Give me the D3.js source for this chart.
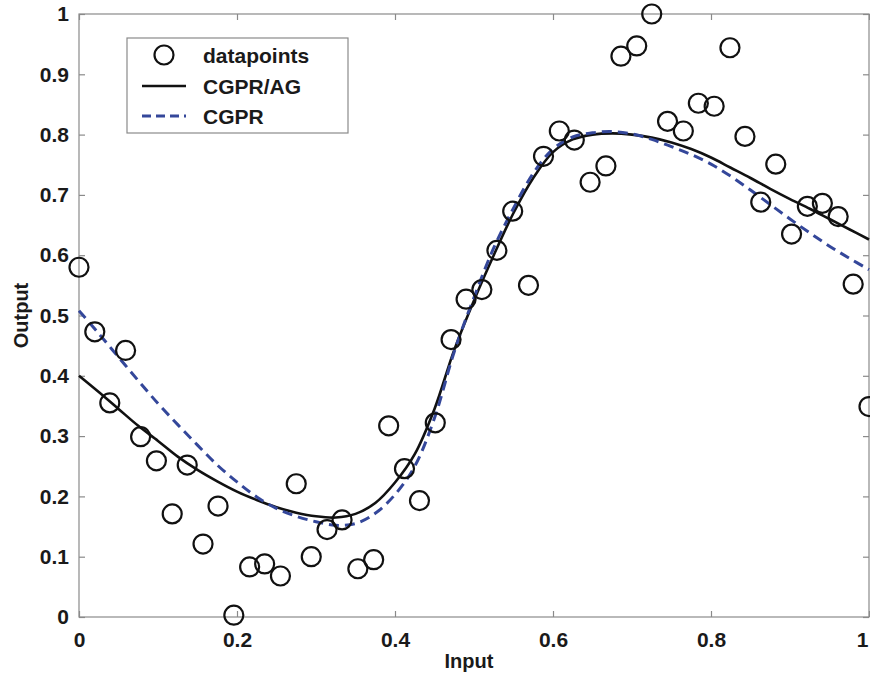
<!DOCTYPE html>
<html><head><meta charset="utf-8">
<script src="https://cdn.jsdelivr.net/npm/d3@7"></script>
<style>body{margin:0;background:#fff}svg{display:block}</style>
</head><body><svg id="c" width="870" height="678"></svg>
<script>
const dataX = [0.000,0.020,0.059,0.039,0.078,0.098,0.118,0.137,0.157,0.176,0.196,0.216,0.235,0.255,0.275,0.294,0.314,0.333,0.353,0.373,0.392,0.412,0.431,0.451,0.471,0.490,0.510,0.529,0.549,0.569,0.588,0.608,0.627,0.647,0.667,0.686,0.706,0.725,0.745,0.765,0.784,0.804,0.824,0.843,0.863,0.882,0.902,0.922,0.941,0.961,0.980,1.000];
const dataY = [0.580,0.473,0.442,0.355,0.299,0.259,0.171,0.252,0.121,0.184,0.003,0.083,0.088,0.068,0.221,0.100,0.145,0.161,0.080,0.095,0.317,0.246,0.193,0.322,0.460,0.527,0.543,0.608,0.673,0.550,0.764,0.806,0.791,0.721,0.748,0.930,0.947,1.000,0.822,0.806,0.852,0.847,0.944,0.797,0.688,0.751,0.635,0.681,0.686,0.664,0.552,0.349];
const curveX = [0,0.025,0.05,0.075,0.1,0.125,0.15,0.175,0.2,0.225,0.25,0.275,0.3,0.325,0.35,0.375,0.4,0.425,0.45,0.475,0.5,0.525,0.55,0.575,0.6,0.625,0.65,0.675,0.7,0.725,0.75,0.775,0.8,0.825,0.85,0.875,0.9,0.925,0.95,0.975,1];
const cgprAG = [0.400,0.373,0.345,0.317,0.292,0.266,0.244,0.225,0.208,0.194,0.182,0.173,0.167,0.165,0.171,0.189,0.223,0.270,0.345,0.443,0.525,0.600,0.670,0.728,0.771,0.792,0.800,0.802,0.800,0.795,0.787,0.776,0.762,0.745,0.728,0.710,0.693,0.677,0.660,0.643,0.626];
const cgpr = [0.508,0.470,0.431,0.392,0.354,0.319,0.285,0.252,0.224,0.199,0.180,0.167,0.158,0.152,0.155,0.172,0.203,0.250,0.330,0.440,0.530,0.612,0.678,0.736,0.776,0.796,0.803,0.805,0.801,0.792,0.780,0.767,0.751,0.731,0.708,0.684,0.660,0.637,0.615,0.595,0.576];
const xTicks = [0,0.2,0.4,0.6,0.8,1];
const yTicks = [0,0.1,0.2,0.3,0.4,0.5,0.6,0.7,0.8,0.9,1];
const legendLabels = ["datapoints","CGPR/AG","CGPR"];

const svg = d3.select("#c");
const L=79, R=869, T=14, B=617;
const x = d3.scaleLinear().domain([0,1]).range([L,R]);
const y = d3.scaleLinear().domain([0,1]).range([B,T]);
const font = "'Liberation Sans', Arial, sans-serif";
const axisCol = "#8a8a8a";
const blue = "#34479a";

svg.append("rect").attr("x",L).attr("y",T).attr("width",R-L).attr("height",B-T)
  .attr("fill","none").attr("stroke",axisCol).attr("stroke-width",1.2);

function styleAxis(g){
  g.select(".domain").remove();
  g.selectAll(".tick line").attr("stroke",axisCol).attr("stroke-width",1.2);
  g.selectAll(".tick text").attr("font-family",font).attr("font-weight","bold")
   .attr("font-size","21px").attr("fill","#1a1a1a");
}
const fmt = d => d===0?"0":d===1?"1":d3.format(".1f")(d);
const xb = svg.append("g").attr("transform",`translate(0,${B})`)
  .call(d3.axisBottom(x).tickValues(xTicks).tickFormat(fmt).tickSizeInner(-6).tickSizeOuter(0).tickPadding(15))
  .call(styleAxis);
xb.selectAll(".tick text").filter(d=>d===1).attr("text-anchor","end").attr("dx","-1px");
svg.append("g").attr("transform",`translate(0,${T})`)
  .call(d3.axisTop(x).tickValues(xTicks).tickFormat("").tickSizeInner(-6).tickSizeOuter(0))
  .call(styleAxis);
svg.append("g").attr("transform",`translate(${L},0)`)
  .call(d3.axisLeft(y).tickValues(yTicks).tickFormat(fmt).tickSizeInner(-6).tickSizeOuter(0).tickPadding(10))
  .call(styleAxis);
svg.append("g").attr("transform",`translate(${R},0)`)
  .call(d3.axisRight(y).tickValues(yTicks).tickFormat("").tickSizeInner(-6).tickSizeOuter(0))
  .call(styleAxis);

svg.append("text").attr("x",(L+R)/2-5).attr("y",668).attr("text-anchor","middle")
  .attr("font-family",font).attr("font-weight","bold").attr("font-size","20px").attr("fill","#1a1a1a").text("Input");
svg.append("text").attr("transform",`translate(28,${(T+B)/2}) rotate(-90)`).attr("text-anchor","middle")
  .attr("font-family",font).attr("font-weight","bold").attr("font-size","20px").attr("fill","#1a1a1a").text("Output");

const line = d3.line().curve(d3.curveCatmullRom.alpha(0.5));
svg.append("path").attr("d",line(curveX.map((d,i)=>[x(d),y(cgprAG[i])])))
  .attr("fill","none").attr("stroke","#111").attr("stroke-width",2.6);
svg.append("path").attr("d",line(curveX.map((d,i)=>[x(d),y(cgpr[i])])))
  .attr("fill","none").attr("stroke",blue).attr("stroke-width",3).attr("stroke-dasharray","10,6");

svg.append("g").selectAll("circle").data(dataX).join("circle")
  .attr("cx",(d)=>x(d)).attr("cy",(d,i)=>y(dataY[i])).attr("r",9.5)
  .attr("fill","none").attr("stroke","#111").attr("stroke-width",2.2);

const lg = svg.append("g");
lg.append("rect").attr("x",127).attr("y",38).attr("width",221).attr("height",95)
  .attr("fill","#fff").attr("stroke",axisCol).attr("stroke-width",1.2);
const ly = [55,86,116];
lg.append("circle").attr("cx",164).attr("cy",ly[0]).attr("r",9.5).attr("fill","none").attr("stroke","#111").attr("stroke-width",2.2);
lg.append("line").attr("x1",142).attr("x2",186).attr("y1",ly[1]).attr("y2",ly[1]).attr("stroke","#111").attr("stroke-width",2.6);
lg.append("line").attr("x1",142).attr("x2",186).attr("y1",ly[2]).attr("y2",ly[2]).attr("stroke",blue).attr("stroke-width",3).attr("stroke-dasharray","9,5");
lg.selectAll("text").data(legendLabels).join("text")
  .attr("x",203).attr("y",(d,i)=>ly[i]).attr("dy","0.36em")
  .attr("font-family",font).attr("font-weight","bold").attr("font-size","21px").attr("fill","#1a1a1a").text(d=>d);
</script></body></html>
